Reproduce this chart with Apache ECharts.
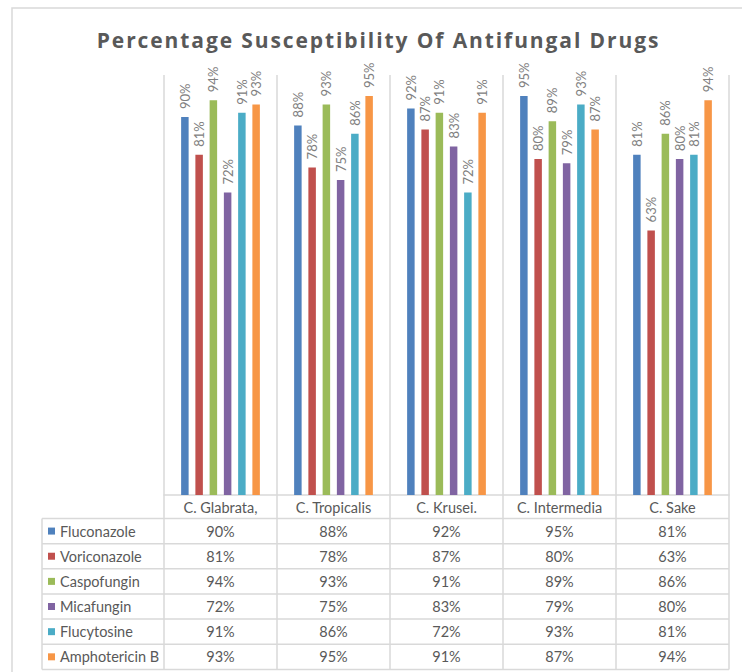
<!DOCTYPE html>
<html>
<head>
<meta charset="utf-8">
<title>Percentage Susceptibility Of Antifungal Drugs</title>
<script src="https://cdn.jsdelivr.net/npm/echarts@6/dist/echarts.min.js"></script>
<style>
  html, body { margin: 0; padding: 0; background: #ffffff; }
  #chart { width: 742px; height: 672px; }
</style>
</head>
<body>
<div id="chart"></div>
<script>
// Species (columns) and drugs (series / table rows)
const categories = ['C. Glabrata,', 'C. Tropicalis', 'C. Krusei.', 'C. Intermedia', 'C. Sake'];
const drugNames = ['Fluconazole', 'Voriconazole', 'Caspofungin', 'Micafungin', 'Flucytosine', 'Amphotericin B'];
const chartTitle = 'Percentage Susceptibility Of Antifungal Drugs';

// Susceptibility in percent, one value per species
const fluconazole   = [90, 88, 92, 95, 81];
const voriconazole  = [81, 78, 87, 80, 63];
const caspofungin   = [94, 93, 91, 89, 86];
const micafungin    = [72, 75, 83, 79, 80];
const flucytosine   = [91, 86, 72, 93, 81];
const amphotericinB = [93, 95, 91, 87, 94];

const seriesValues = [fluconazole, voriconazole, caspofungin, micafungin, flucytosine, amphotericinB];
const palette = ['#4F81BD', '#C0504D', '#9BBB59', '#8064A2', '#4BACC6', '#F79646'];

const FONT = 'Lato, "Liberation Sans", sans-serif';
const TEXT_GRAY = '#595959';
const LINE_GRAY = '#d9d9d9';
const TABLE_FONT_SIZE = 14.5;

const chart = echarts.init(document.getElementById('chart'), null, { renderer: 'svg' });

const option = {
  animation: false,
  backgroundColor: '#ffffff',
  textStyle: { fontFamily: FONT },
  grid: { left: 164, right: 13, top: 75, bottom: 177, containLabel: false },
  xAxis: {
    type: 'category',
    data: categories,
    axisLine: { show: true, lineStyle: { color: LINE_GRAY, width: 1.5 } },
    axisTick: { show: false },
    splitLine: { show: true, interval: 0, lineStyle: { color: LINE_GRAY, width: 1.5 } },
    axisLabel: { interval: 0, margin: 5, color: TEXT_GRAY, fontSize: TABLE_FONT_SIZE, fontFamily: FONT }
  },
  yAxis: {
    type: 'value',
    min: 0,
    max: 100,
    show: false,
    splitLine: { show: false }
  },
  series: drugNames.map((name, i) => ({
    name: name,
    type: 'bar',
    data: seriesValues[i],
    barWidth: 7.5,
    barGap: '90%',
    itemStyle: { color: palette[i] },
    label: {
      show: true,
      position: 'top',
      rotate: 90,
      align: 'left',
      verticalAlign: 'middle',
      distance: 8,
      formatter: p => p.value + '%',
      color: '#808080',
      fontSize: 13,
      fontFamily: FONT
    }
  }))
};

chart.setOption(option);

// Data table under the plot, positioned from the category axis
function buildTable() {
  const centers = categories.map((c, i) => chart.convertToPixel({ xAxisIndex: 0 }, i));
  const band = centers.length > 1 ? centers[1] - centers[0] : 113;
  const colLeft = centers[0] - band / 2;
  const colRight = centers[centers.length - 1] + band / 2;
  const yBase = chart.convertToPixel({ yAxisIndex: 0 }, 0);
  const headerH = 23.5;
  const rowH = 25.15;
  const labelLeft = 42;
  const tableTop = yBase + headerH;
  const tableBottom = tableTop + rowH * drugNames.length;

  const elements = [];
  const lineStyle = { stroke: LINE_GRAY, lineWidth: 1.5 };

  // chart frame
  elements.push({
    type: 'rect', silent: true,
    shape: { x: 12, y: 8, width: 900, height: 900 },
    style: { fill: null, stroke: LINE_GRAY, lineWidth: 1.5 }
  });

  // title
  elements.push({
    type: 'text', silent: true,
    x: 378.5, y: 40,
    style: {
      text: chartTitle,
      fill: TEXT_GRAY,
      font: 'bold 21px "Open Sans", sans-serif',
      align: 'center', verticalAlign: 'middle',
      textAlign: 'center', textVerticalAlign: 'middle'
    }
  });

  // vertical column borders through the table
  for (let k = 0; k <= categories.length; k++) {
    const x = colLeft + band * k;
    elements.push({ type: 'line', silent: true, shape: { x1: x, y1: yBase, x2: x, y2: tableBottom }, style: lineStyle });
  }
  elements.push({ type: 'line', silent: true, shape: { x1: labelLeft, y1: tableTop, x2: labelLeft, y2: tableBottom }, style: lineStyle });

  // horizontal row borders
  for (let r = 0; r <= drugNames.length; r++) {
    const y = tableTop + rowH * r;
    elements.push({ type: 'line', silent: true, shape: { x1: labelLeft, y1: y, x2: colRight, y2: y }, style: lineStyle });
  }

  // rows: legend key, drug name, values
  drugNames.forEach((name, r) => {
    const cy = tableTop + rowH * r + rowH / 2;
    elements.push({
      type: 'rect', silent: true,
      shape: { x: 48, y: cy - 3.5, width: 7, height: 7 },
      style: { fill: palette[r] }
    });
    elements.push({
      type: 'text', silent: true,
      x: 60, y: cy,
      style: {
        text: name, fill: TEXT_GRAY, font: TABLE_FONT_SIZE + 'px ' + FONT,
        align: 'left', verticalAlign: 'middle', textAlign: 'left', textVerticalAlign: 'middle'
      }
    });
    seriesValues[r].forEach((v, c) => {
      elements.push({
        type: 'text', silent: true,
        x: centers[c], y: cy,
        style: {
          text: v + '%', fill: TEXT_GRAY, font: TABLE_FONT_SIZE + 'px ' + FONT,
          align: 'center', verticalAlign: 'middle', textAlign: 'center', textVerticalAlign: 'middle'
        }
      });
    });
  });

  chart.setOption({ graphic: { elements: elements } });
}

buildTable();

// Spaced-out lettering for the heading
function spaceTitle() {
  document.querySelectorAll('#chart svg text').forEach(t => {
    if (t.textContent === chartTitle) {
      t.style.letterSpacing = '1.9px';
    }
  });
}
spaceTitle();
chart.on('finished', spaceTitle);
</script>
</body>
</html>
